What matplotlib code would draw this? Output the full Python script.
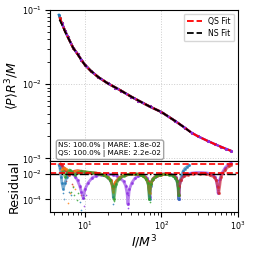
import numpy as np
import matplotlib
matplotlib.use("Agg")
import matplotlib.pyplot as plt

# main curve: I/M^3 vs <P>R^3/M
curve_x = [4.55, 4.7, 5.0, 5.5, 6.0, 7.0, 8.0, 9.0, 10, 12, 15, 20, 25, 30, 40, 50,
           70, 100, 150, 200, 250, 300, 400, 500, 600, 700, 800]
curve_y = [0.086, 0.078, 0.066, 0.052, 0.043, 0.031, 0.0255, 0.0212, 0.0182, 0.0150,
           0.0124, 0.0102, 0.0090, 0.0081, 0.0068, 0.0060, 0.0050, 0.0042, 0.0032,
           0.0026, 0.0022, 0.00198, 0.00172, 0.00155, 0.00143, 0.00134, 0.00127]

# fits
qs_fit_x = [4.7, 5.0, 5.5, 6.0, 7.0, 8.0, 9.0, 10, 12, 15, 20, 25, 30, 40, 50, 70,
            100, 150, 200, 250, 300, 400, 500, 600, 700, 800]
qs_fit_y = [0.077, 0.065, 0.051, 0.0425, 0.0308, 0.0254, 0.0211, 0.0181, 0.0149,
            0.0124, 0.0102, 0.0090, 0.0081, 0.0068, 0.0060, 0.0050, 0.0042, 0.0032,
            0.0026, 0.0022, 0.00198, 0.00172, 0.00155, 0.00143, 0.00134, 0.00127]
ns_fit_x = [4.65, 5.0, 5.5, 6.0, 7.0, 8.0, 9.0, 10, 12, 15, 20, 25, 30, 40, 50, 70,
            100, 150, 200, 240]
ns_fit_y = [0.074, 0.064, 0.051, 0.0425, 0.0309, 0.0254, 0.0211, 0.0181, 0.0150,
            0.0124, 0.0102, 0.0090, 0.0081, 0.0068, 0.0060, 0.0050, 0.0042, 0.0032,
            0.0026, 0.00225]

# range of each data set along the curve
spans = {
    "C0": (4.5, 240),
    "C1": (5.0, 120),
    "C2": (5.0, 170),
    "C3": (4.7, 800),
    "#8a2be2": (5.0, 800),
}

# residual traces
res_trace = {
    "#8a2be2": (
        [5.0, 5.3, 5.6, 6.0, 6.5, 7.0, 7.5, 8.0, 8.5, 9.0, 9.5, 10.0, 11, 12.5, 14, 16,
         18, 20, 23, 26, 29, 32, 34, 35.5, 36.5, 38, 41, 45, 50, 55, 60, 64, 67, 69,
         70.5, 72, 76, 82, 90, 100, 115, 130, 145, 155, 162, 166, 169, 172, 178, 190,
         210, 240, 280, 330, 380, 430, 470, 500, 520, 535, 550, 580, 620, 680, 740, 800],
        [0.04, 0.03, 0.02, 0.015, 0.012, 0.009, 0.006, 0.003, 0.0012, 0.0004, 0.00012,
         0.0006, 0.002, 0.005, 0.007, 0.0085, 0.0095, 0.0095, 0.0088, 0.0068, 0.0045,
         0.0025, 0.0012, 0.0003, 0.00004, 0.0006, 0.002, 0.0045, 0.0068, 0.0078,
         0.0072, 0.005, 0.0028, 0.001, 0.00015, 0.0015, 0.0035, 0.0058, 0.008, 0.0095,
         0.0105, 0.0098, 0.008, 0.0052, 0.0025, 0.001, 0.0001, 0.0012, 0.003, 0.0062,
         0.009, 0.011, 0.0125, 0.0125, 0.012, 0.0105, 0.008, 0.0055, 0.003, 0.0012,
         0.0003, 0.004, 0.012, 0.03, 0.05, 0.07],
    ),
    "C0": (
        [4.6, 4.7, 4.8, 4.9, 5.0, 5.2, 5.5, 5.8, 6.2, 6.8, 7.5, 8.5, 10, 12, 14, 16, 18,
         20, 21.5, 22.8, 23.5, 24.5, 26, 29, 33, 40, 48, 55, 61, 65, 68, 70, 72, 76, 83,
         95, 110, 125, 140, 152, 160, 165, 168, 171, 176, 183, 192, 202, 215, 230],
        [0.05, 0.03, 0.015, 0.006, 0.002, 0.0007, 0.002, 0.006, 0.012, 0.015, 0.014,
         0.012, 0.011, 0.0115, 0.011, 0.0095, 0.0075, 0.005, 0.003, 0.0012, 0.00015,
         0.0012, 0.003, 0.0055, 0.0078, 0.0095, 0.0095, 0.008, 0.0055, 0.003, 0.0012,
         0.0001, 0.0012, 0.003, 0.0055, 0.008, 0.0092, 0.009, 0.0075, 0.005, 0.0025,
         0.0008, 0.0001, 0.0009, 0.003, 0.008, 0.016, 0.026, 0.035, 0.045],
    ),
    "C3": (
        [4.8, 5.0, 5.2, 5.5, 5.8, 6.2, 6.7, 7.3, 8.0, 9.0, 10, 12, 14, 16, 18, 20, 22,
         23.5, 25, 28, 33, 40, 48, 55, 61, 66, 69.5, 72.5, 78, 87, 100, 115, 130, 145,
         155, 162, 166, 168.5, 172, 180, 195, 220, 260, 320, 380, 430, 480, 520, 545,
         560, 600, 680, 760, 800],
        [0.06, 0.045, 0.03, 0.02, 0.012, 0.008, 0.011, 0.016, 0.018, 0.016, 0.0135,
         0.012, 0.0112, 0.0095, 0.0078, 0.0055, 0.003, 0.0008, 0.002, 0.0048, 0.0075,
         0.0092, 0.0095, 0.008, 0.0055, 0.0028, 0.0004, 0.0018, 0.0042, 0.0068, 0.0088,
         0.0095, 0.009, 0.0072, 0.005, 0.0027, 0.0009, 0.0002, 0.0012, 0.0035, 0.0062,
         0.0085, 0.0098, 0.0102, 0.0095, 0.008, 0.0058, 0.0032, 0.0009, 0.0003, 0.006,
         0.02, 0.04, 0.05],
    ),
    "C1": (
        [5.0, 5.3, 5.6, 6.0, 6.5, 7.2, 8.0, 9.0, 10.5, 12, 14, 16, 18, 20, 22, 23.5, 25,
         28, 32, 38, 45, 52, 58, 63, 67, 70, 73, 78, 85, 95, 105, 120],
        [0.02, 0.03, 0.025, 0.018, 0.013, 0.015, 0.017, 0.015, 0.013, 0.012, 0.0115,
         0.0098, 0.0078, 0.0052, 0.0026, 0.0004, 0.0022, 0.005, 0.0075, 0.0095, 0.01,
         0.009, 0.0068, 0.0042, 0.002, 0.0003, 0.0018, 0.004, 0.0065, 0.0085, 0.0095,
         0.0098],
    ),
    "C2": (
        [5.2, 5.5, 5.9, 6.3, 6.8, 7.4, 8.0, 9.0, 10, 11.5, 13, 15, 17, 19.5, 21.5, 23,
         24, 25.5, 28, 32, 38, 45, 52, 58, 63, 67, 69.5, 72, 77, 85, 96, 110, 125, 140,
         152, 160, 165, 167.5],
        [0.015, 0.006, 0.012, 0.02, 0.014, 0.008, 0.012, 0.016, 0.015, 0.013, 0.012,
         0.0105, 0.0085, 0.006, 0.0035, 0.0012, 0.0001, 0.0015, 0.0042, 0.007, 0.009,
         0.0098, 0.0088, 0.0065, 0.004, 0.0018, 0.0001, 0.0015, 0.0038, 0.0062, 0.0082,
         0.009, 0.0085, 0.007, 0.0048, 0.0025, 0.0008, 0.0002],
    ),
}

# scattered low residual points
res_outliers = {
    "C0": ([5.1, 5.4, 6.1, 6.6, 8.6, 9.0, 9.3, 23, 166, 168],
           [0.0003, 0.0001, 0.0004, 0.0002, 0.00006, 0.000015, 0.0002, 0.00004, 0.0002, 0.0003]),
    "C1": ([6.0, 6.3, 7.5, 8.8, 6.9],
           [0.00005, 0.0003, 0.0006, 0.0002, 0.0012]),
    "C2": ([6.6, 7.0, 7.8, 8.2, 9.6, 7.3, 24, 70],
           [0.0004, 0.001, 0.00009, 0.0003, 0.00012, 0.0002, 0.00008, 0.00006]),
    "C3": ([6.8, 8.5, 5.6],
           [0.0015, 0.0009, 0.0025]),
    "#8a2be2": ([9.5, 9.8, 10.2, 36, 37, 540, 548, 555, 36.5],
                [0.00012, 0.00003, 0.0002, 0.0002, 0.00005, 0.0035, 0.0012, 0.0005, 0.00002]),
}

mare_ns = 1.8e-2
mare_qs = 2.2e-2
ref_lines = [(0.06, "red", "--", 1.2), (0.0125, "red", "--", 1.2), (0.0101, "k", "-.", 1.0)]

fig = plt.figure(figsize=(2.54, 2.54), dpi=100)
ax1 = fig.add_axes([0.197, 0.366, 0.74, 0.595])
ax2 = fig.add_axes([0.197, 0.165, 0.74, 0.201], sharex=ax1)

for c, (lo, hi) in spans.items():
    xs = [x for x in curve_x if lo <= x <= hi]
    ys = [y for x, y in zip(curve_x, curve_y) if lo <= x <= hi]
    ax1.plot(xs, ys, "-", color=c, lw=1.6, marker="o", ms=1.2)

ax1.plot(qs_fit_x, qs_fit_y, "--", color="red", lw=1.3, label="QS Fit")
ax1.plot(ns_fit_x, ns_fit_y, "--", color="k", lw=1.3, label="NS Fit")

ax1.set_xscale("log")
ax1.set_yscale("log")
ax1.set_xlim(3.5, 1000)
ax1.set_ylim(9.2e-4, 0.1)
ax1.set_ylabel(r"$\langle P\rangle R^3/M$", fontsize=9)
ax1.yaxis.set_label_coords(-0.155, 0.5)
ax1.grid(True, which="major", ls=":", color="0.8", lw=0.7)
ax1.tick_params(labelsize=5.8, labelbottom=False, pad=2)
ax1.legend(loc="upper right", fontsize=5.6, handlelength=2.0, borderpad=0.4,
           labelspacing=0.4, handletextpad=0.8)
ax1.text(0.045, 0.025,
         f"NS: 100.0% | MARE: {mare_ns:.1e}\nQS: 100.0% | MARE: {mare_qs:.1e}",
         transform=ax1.transAxes, fontsize=5.2, va="bottom", ha="left",
         bbox=dict(boxstyle="round,pad=0.3", fc="white", ec="0.6", alpha=0.9))

for c, (xs, rs) in res_trace.items():
    ax2.plot(xs, rs, "-", color=c, lw=2.0, alpha=0.6, marker="o", ms=1.2)
for c, (xs, rs) in res_outliers.items():
    ax2.scatter(xs, rs, s=1.5, color=c, alpha=0.8, lw=0)
for y, c, ls, lw in ref_lines:
    ax2.axhline(y, color=c, ls=ls, lw=lw)

ax2.set_yscale("log")
ax2.set_ylim(1e-5, 0.1)
ax2.set_yticks([1e-4, 1e-2])
ax2.set_ylabel("Residual", fontsize=9)
ax2.yaxis.set_label_coords(-0.155, 0.5)
ax2.set_xlabel(r"$I/M^3$", fontsize=9, labelpad=1)
ax2.grid(True, which="major", ls=":", color="0.8", lw=0.7)
ax2.tick_params(labelsize=5.8, pad=2)

fig.savefig("out.png", dpi=100)
